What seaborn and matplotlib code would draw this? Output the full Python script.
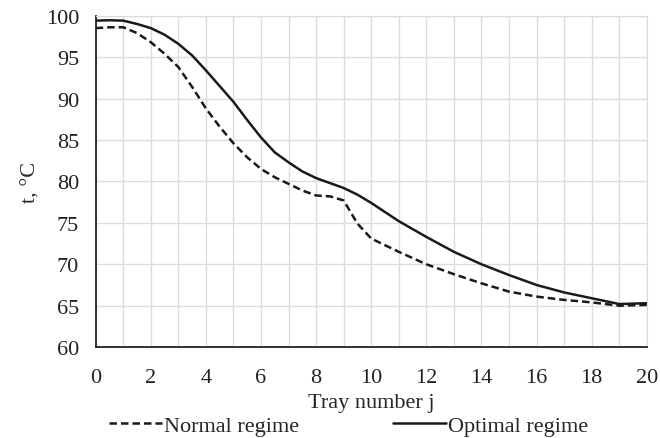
import pandas as pd
import matplotlib
matplotlib.use('Agg')
import matplotlib.pyplot as plt
import seaborn as sns

# tray number and temperatures
tray = [0, 0.5, 1, 1.5, 2, 2.5, 3, 3.5, 4, 4.5, 5, 5.5, 6, 6.5, 7, 7.5, 8, 8.5, 9, 9.5,
        10, 10.5, 11, 12, 13, 14, 15, 16, 17, 18, 19, 20]
normal = [98.5, 98.6, 98.6, 97.9, 96.8, 95.4, 93.8, 91.4, 88.8, 86.6, 84.6, 82.9, 81.5, 80.5,
          79.7, 78.9, 78.3, 78.2, 77.7, 74.9, 73.1, 72.3, 71.5, 70.0, 68.8, 67.7, 66.7, 66.1,
          65.7, 65.4, 65.0, 65.1]
optimal = [99.4, 99.45, 99.4, 99.0, 98.5, 97.7, 96.6, 95.2, 93.4, 91.5, 89.6, 87.4, 85.3, 83.5,
           82.3, 81.2, 80.4, 79.8, 79.2, 78.4, 77.4, 76.3, 75.2, 73.3, 71.5, 70.0, 68.7, 67.5,
           66.6, 65.9, 65.2, 65.3]

df = pd.concat([
    pd.DataFrame({'tray': tray, 't': normal, 'regime': 'Normal regime'}),
    pd.DataFrame({'tray': tray, 't': optimal, 'regime': 'Optimal regime'}),
])

sns.set_style('white')
plt.rcParams['font.family'] = ['Liberation Serif', 'DejaVu Serif']

fig = plt.figure(figsize=(6.6, 4.39), dpi=100)
ax = fig.add_axes([0.145, 0.207, 0.835, 0.755])

sns.lineplot(data=df, x='tray', y='t', style='regime', color='#1a1a1a', linewidth=1.8,
             dashes={'Normal regime': (3, 1.6), 'Optimal regime': ''}, ax=ax, legend=True)

ax.set_xlim(0, 20)
ax.set_ylim(60, 100)
ax.set_xticks(range(0, 21, 2))
ax.set_xticks(range(0, 21, 1), minor=True)
ax.set_yticks(range(60, 101, 5))
ax.grid(True, which='both', color='#dcdcdc', linewidth=1)
ax.set_axisbelow(True)
ax.tick_params(axis='both', which='both', length=0, labelsize=16, colors='#222222')
ax.tick_params(axis='x', pad=15)
ax.tick_params(axis='y', pad=12)

for side in ['top', 'right']:
    ax.spines[side].set_color('#dcdcdc')
for side in ['left', 'bottom']:
    ax.spines[side].set_color('#222222')
    ax.spines[side].set_linewidth(1.3)

ax.set_xlabel('Tray number j', fontsize=16, labelpad=4)
ax.set_ylabel('t, °C', fontsize=16, labelpad=4)

handles, labels = ax.get_legend_handles_labels()
ax.legend(handles, labels, loc='upper center', bbox_to_anchor=(0.459, -0.172), ncol=2,
          frameon=False, fontsize=16, handlelength=2.4, handletextpad=0.1,
          columnspacing=4.2, borderpad=0)

fig.savefig('out.png', dpi=100)
